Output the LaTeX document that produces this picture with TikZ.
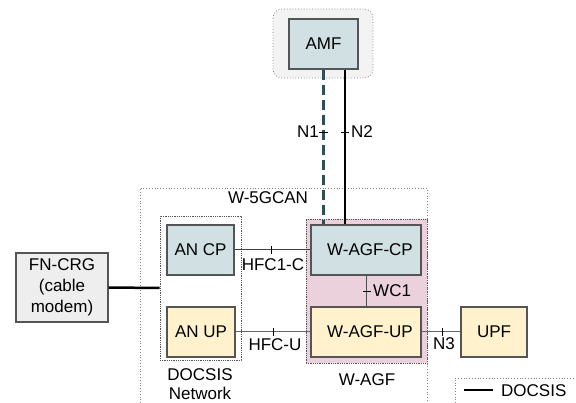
\documentclass[tikz,border=0pt]{standalone}
\usepackage{fontspec}
\setmainfont{Liberation Sans}
\definecolor{cpfill}{HTML}{D0E0E3}
\definecolor{upfill}{HTML}{FFF2CC}
\definecolor{agffill}{HTML}{EAD1DC}
\definecolor{grpfill}{HTML}{F3F3F3}
\definecolor{cmfill}{HTML}{EEEEEE}
\definecolor{bordc}{HTML}{555555}
\definecolor{teal}{HTML}{2E4F55}
\begin{document}
\begin{tikzpicture}[x=1pt,y=-1pt,
  every node/.style={font=\fontsize{17}{21}\selectfont, inner sep=0pt},
  box/.style={draw=bordc, line width=1.2pt, minimum height=50pt},
  cpbox/.style={box, fill=cpfill},
  upbox/.style={box, fill=upfill},
  grp/.style={draw=gray, dotted, line width=0.8pt},
  lbl/.style={},
  ifline/.style={draw=gray!80!black, line width=1pt},
  tickl/.style={draw=black, line width=0.8pt},
  thickl/.style={draw=black, line width=2.5pt}
]
\useasboundingbox (0,0) rectangle (576,403);
% W-5GCAN area
\draw[grp] (140,403) -- (140,188) -- (427,188) -- (427,403);
\node[lbl] (w5gcan) at (268,198) {W-5GCAN};
% AMF group
\draw[grp, fill=grpfill, rounded corners=9pt] (273,9) rectangle (373,78);
\node[cpbox, minimum width=69pt] (amf) at (323.5,44) {AMF};
% DOCSIS network box
\node[draw=bordc, densely dotted, line width=0.8pt, minimum width=81pt, minimum height=144pt] (docsis) at (200.5,288) {};
\node[align=center, font=\fontsize{17}{19}\selectfont] (docsislbl) at (200,384) {DOCSIS\\Network};
% W-AGF box
\node[draw=bordc, densely dotted, line width=0.8pt, fill=agffill, minimum width=121pt, minimum height=144pt] (wagf) at (366.5,291) {};
\node (wagflbl) at (367,380) {W-AGF};
% boxes
\node[cpbox, minimum width=67pt] (ancp) at (200.5,250) {AN CP};
\node[upbox, minimum width=68pt] (anup) at (201,332) {AN UP};
\node[cpbox, minimum width=110pt] (wcp) at (366,250) {\hspace{8pt}W-AGF-CP};
\node[upbox, minimum width=110pt] (wup) at (366,332) {\hspace{8pt}W-AGF-UP};
\node[upbox, minimum width=66pt] (upf) at (494,332) {UPF};
\node[box, fill=cmfill, minimum width=92pt, minimum height=69pt, align=center] (fncrg) at (62,287.5) {FN-CRG\\(cable\\modem)};
% N1 / N2
\draw[draw=teal, line width=2.5pt, dash pattern=on 10pt off 5pt] (amf.south) -- (amf.south |- wcp.north);
\draw[draw=black, line width=2pt] ([xshift=21.5pt]amf.south) -- ([xshift=21.5pt]amf.south |- wcp.north);
\draw[tickl] (319,132) -- (328,132);
\draw[tickl] (341,132) -- (349,132);
\node[anchor=east] (n1) at (319,132) {N1};
\node[anchor=west] (n2) at (351,132) {N2};
% HFC1-C
\draw[ifline, draw=black!75] (ancp.east) -- (wcp.west);
\draw[tickl] (271,246) -- (271,254);
\node (hfc1c) at (273,265) {HFC1-C};
% HFC-U
\draw[ifline] (anup.east) -- (wup.west);
\draw[tickl] (273,328) -- (273,336);
\node (hfcu) at (275,345) {HFC-U};
% WC1
\draw[ifline, draw=black!70] (wcp.south) -- (wup.north);
\draw[tickl] (363,291) -- (371,291);
\node[anchor=west] (wc1) at (373,291) {WC1};
% N3
\draw[ifline] (wup.east) -- (upf.west);
\draw[tickl] (442,328) -- (442,336);
\node (n3) at (444,344) {N3};
% FN-CRG to DOCSIS
\draw[thickl] (fncrg.east) -- (docsis.west);
% legend
\draw[grp] (455,403) -- (455,378) -- (576,378);
\coordinate (lega) at (464,390);
\coordinate (legb) at (493,390);
\draw[thickl] (lega) -- (legb);
\node[anchor=west] (legtxt) at (501,391) {DOCSIS};
\end{tikzpicture}
\end{document}
